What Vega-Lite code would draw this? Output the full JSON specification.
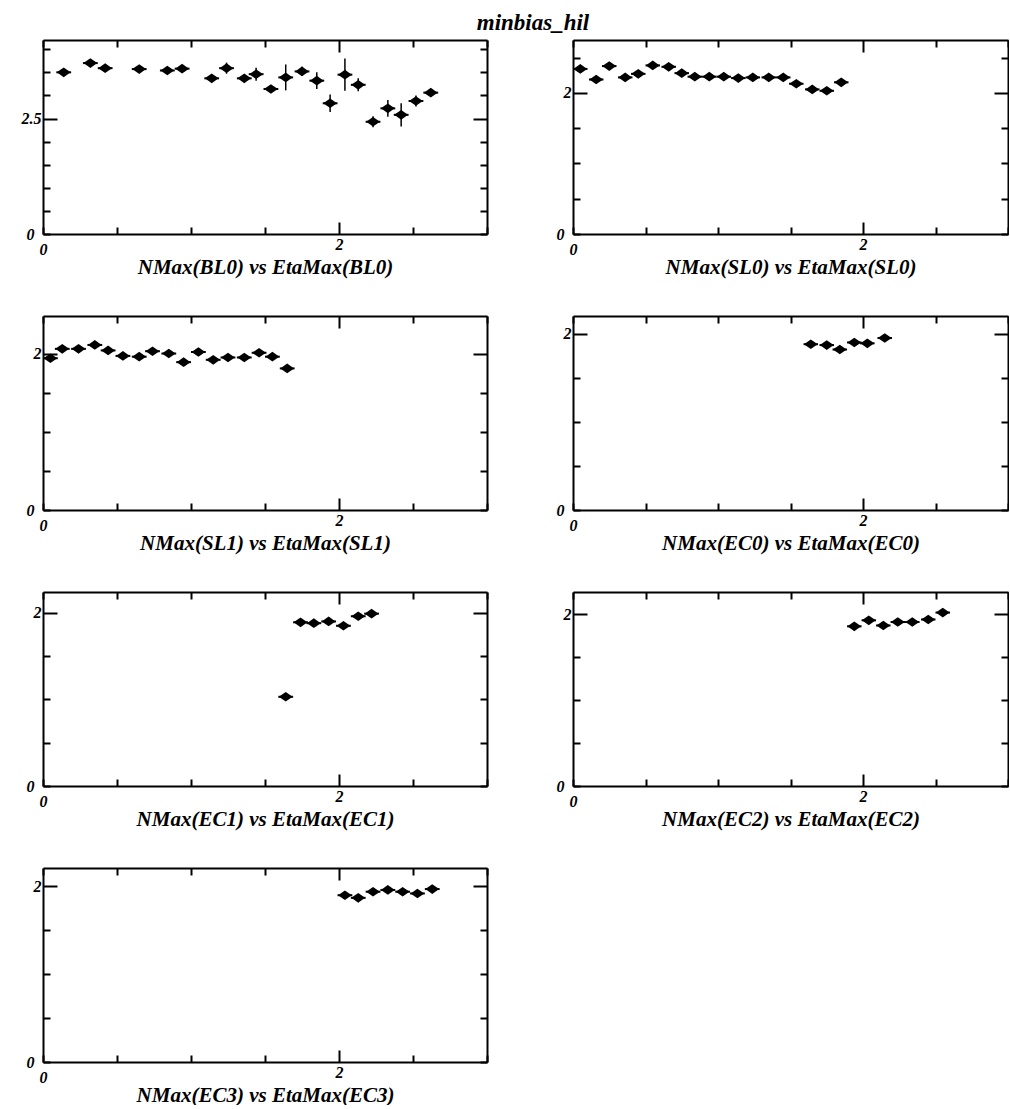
{
  "$schema": "https://vega.github.io/schema/vega-lite/v6.json",
  "background": "white",
  "padding": {"left": 21, "top": 12, "right": 0, "bottom": 0},
  "title": {"text": "minbias_hil", "font": "Liberation Serif", "fontStyle": "italic", "fontWeight": "bold", "fontSize": 23, "color": "black", "anchor": "middle", "offset": 4, "dx": 18},
  "columns": 2,
  "spacing": {"row": 38, "column": 68},
  "datasets": {
    "bl0": [
      {"x":0.14,"xlo":0.09,"xhi":0.19,"y":3.50,"ylo":3.44,"yhi":3.56},
      {"x":0.32,"xlo":0.27,"xhi":0.37,"y":3.70,"ylo":3.64,"yhi":3.76},
      {"x":0.42,"xlo":0.37,"xhi":0.47,"y":3.59,"ylo":3.53,"yhi":3.65},
      {"x":0.65,"xlo":0.60,"xhi":0.70,"y":3.57,"ylo":3.51,"yhi":3.63},
      {"x":0.84,"xlo":0.79,"xhi":0.89,"y":3.54,"ylo":3.48,"yhi":3.60},
      {"x":0.94,"xlo":0.89,"xhi":0.99,"y":3.58,"ylo":3.52,"yhi":3.64},
      {"x":1.14,"xlo":1.09,"xhi":1.19,"y":3.37,"ylo":3.30,"yhi":3.44},
      {"x":1.24,"xlo":1.19,"xhi":1.29,"y":3.59,"ylo":3.47,"yhi":3.71},
      {"x":1.36,"xlo":1.31,"xhi":1.41,"y":3.37,"ylo":3.29,"yhi":3.45},
      {"x":1.44,"xlo":1.39,"xhi":1.49,"y":3.46,"ylo":3.32,"yhi":3.60},
      {"x":1.54,"xlo":1.49,"xhi":1.59,"y":3.14,"ylo":3.06,"yhi":3.22},
      {"x":1.64,"xlo":1.59,"xhi":1.69,"y":3.39,"ylo":3.11,"yhi":3.67},
      {"x":1.75,"xlo":1.70,"xhi":1.80,"y":3.52,"ylo":3.42,"yhi":3.62},
      {"x":1.85,"xlo":1.80,"xhi":1.90,"y":3.32,"ylo":3.14,"yhi":3.50},
      {"x":1.94,"xlo":1.89,"xhi":1.99,"y":2.83,"ylo":2.64,"yhi":3.02},
      {"x":2.04,"xlo":1.99,"xhi":2.09,"y":3.45,"ylo":3.10,"yhi":3.80},
      {"x":2.13,"xlo":2.08,"xhi":2.18,"y":3.23,"ylo":3.09,"yhi":3.37},
      {"x":2.23,"xlo":2.18,"xhi":2.28,"y":2.43,"ylo":2.31,"yhi":2.55},
      {"x":2.33,"xlo":2.28,"xhi":2.38,"y":2.72,"ylo":2.54,"yhi":2.90},
      {"x":2.42,"xlo":2.37,"xhi":2.47,"y":2.58,"ylo":2.33,"yhi":2.83},
      {"x":2.52,"xlo":2.47,"xhi":2.57,"y":2.88,"ylo":2.76,"yhi":3.00},
      {"x":2.62,"xlo":2.57,"xhi":2.67,"y":3.06,"ylo":2.98,"yhi":3.14}
    ],
    "sl0": [
      {"x":0.05,"xlo":0.00,"xhi":0.10,"y":2.34,"ylo":2.31,"yhi":2.37},
      {"x":0.16,"xlo":0.11,"xhi":0.21,"y":2.19,"ylo":2.16,"yhi":2.22},
      {"x":0.25,"xlo":0.20,"xhi":0.30,"y":2.38,"ylo":2.35,"yhi":2.41},
      {"x":0.36,"xlo":0.31,"xhi":0.41,"y":2.22,"ylo":2.19,"yhi":2.25},
      {"x":0.45,"xlo":0.40,"xhi":0.50,"y":2.27,"ylo":2.24,"yhi":2.30},
      {"x":0.55,"xlo":0.50,"xhi":0.60,"y":2.39,"ylo":2.36,"yhi":2.42},
      {"x":0.66,"xlo":0.61,"xhi":0.71,"y":2.37,"ylo":2.34,"yhi":2.40},
      {"x":0.75,"xlo":0.70,"xhi":0.80,"y":2.28,"ylo":2.25,"yhi":2.31},
      {"x":0.84,"xlo":0.79,"xhi":0.89,"y":2.23,"ylo":2.20,"yhi":2.26},
      {"x":0.94,"xlo":0.89,"xhi":0.99,"y":2.23,"ylo":2.20,"yhi":2.26},
      {"x":1.04,"xlo":0.99,"xhi":1.09,"y":2.23,"ylo":2.20,"yhi":2.26},
      {"x":1.14,"xlo":1.09,"xhi":1.19,"y":2.21,"ylo":2.18,"yhi":2.24},
      {"x":1.24,"xlo":1.19,"xhi":1.29,"y":2.22,"ylo":2.19,"yhi":2.25},
      {"x":1.35,"xlo":1.30,"xhi":1.40,"y":2.22,"ylo":2.19,"yhi":2.25},
      {"x":1.45,"xlo":1.40,"xhi":1.50,"y":2.22,"ylo":2.19,"yhi":2.25},
      {"x":1.54,"xlo":1.49,"xhi":1.59,"y":2.13,"ylo":2.10,"yhi":2.16},
      {"x":1.65,"xlo":1.60,"xhi":1.70,"y":2.05,"ylo":2.02,"yhi":2.08},
      {"x":1.75,"xlo":1.70,"xhi":1.80,"y":2.03,"ylo":2.00,"yhi":2.06},
      {"x":1.85,"xlo":1.80,"xhi":1.90,"y":2.15,"ylo":2.12,"yhi":2.18}
    ],
    "sl1": [
      {"x":0.05,"xlo":0.00,"xhi":0.10,"y":1.94,"ylo":1.91,"yhi":1.97},
      {"x":0.13,"xlo":0.08,"xhi":0.18,"y":2.06,"ylo":2.03,"yhi":2.09},
      {"x":0.24,"xlo":0.19,"xhi":0.29,"y":2.06,"ylo":2.03,"yhi":2.09},
      {"x":0.35,"xlo":0.30,"xhi":0.40,"y":2.11,"ylo":2.08,"yhi":2.14},
      {"x":0.44,"xlo":0.39,"xhi":0.49,"y":2.04,"ylo":2.01,"yhi":2.07},
      {"x":0.54,"xlo":0.49,"xhi":0.59,"y":1.97,"ylo":1.94,"yhi":2.00},
      {"x":0.65,"xlo":0.60,"xhi":0.70,"y":1.96,"ylo":1.93,"yhi":1.99},
      {"x":0.74,"xlo":0.69,"xhi":0.79,"y":2.03,"ylo":2.00,"yhi":2.06},
      {"x":0.85,"xlo":0.80,"xhi":0.90,"y":2.00,"ylo":1.97,"yhi":2.03},
      {"x":0.95,"xlo":0.90,"xhi":1.00,"y":1.89,"ylo":1.86,"yhi":1.92},
      {"x":1.05,"xlo":1.00,"xhi":1.10,"y":2.02,"ylo":1.99,"yhi":2.05},
      {"x":1.15,"xlo":1.10,"xhi":1.20,"y":1.92,"ylo":1.89,"yhi":1.95},
      {"x":1.25,"xlo":1.20,"xhi":1.30,"y":1.95,"ylo":1.92,"yhi":1.98},
      {"x":1.36,"xlo":1.31,"xhi":1.41,"y":1.95,"ylo":1.92,"yhi":1.98},
      {"x":1.46,"xlo":1.41,"xhi":1.51,"y":2.01,"ylo":1.98,"yhi":2.04},
      {"x":1.55,"xlo":1.50,"xhi":1.60,"y":1.96,"ylo":1.93,"yhi":1.99},
      {"x":1.65,"xlo":1.60,"xhi":1.70,"y":1.81,"ylo":1.78,"yhi":1.84}
    ],
    "ec0": [
      {"x":1.64,"xlo":1.59,"xhi":1.69,"y":1.88,"ylo":1.85,"yhi":1.91},
      {"x":1.75,"xlo":1.70,"xhi":1.80,"y":1.87,"ylo":1.84,"yhi":1.90},
      {"x":1.84,"xlo":1.79,"xhi":1.89,"y":1.82,"ylo":1.79,"yhi":1.85},
      {"x":1.94,"xlo":1.89,"xhi":1.99,"y":1.90,"ylo":1.87,"yhi":1.93},
      {"x":2.03,"xlo":1.98,"xhi":2.08,"y":1.89,"ylo":1.86,"yhi":1.92},
      {"x":2.15,"xlo":2.10,"xhi":2.20,"y":1.95,"ylo":1.92,"yhi":1.98}
    ],
    "ec1": [
      {"x":1.64,"xlo":1.59,"xhi":1.69,"y":1.03,"ylo":1.00,"yhi":1.06},
      {"x":1.74,"xlo":1.69,"xhi":1.79,"y":1.89,"ylo":1.86,"yhi":1.92},
      {"x":1.83,"xlo":1.78,"xhi":1.88,"y":1.88,"ylo":1.85,"yhi":1.91},
      {"x":1.93,"xlo":1.88,"xhi":1.98,"y":1.90,"ylo":1.87,"yhi":1.93},
      {"x":2.03,"xlo":1.98,"xhi":2.08,"y":1.85,"ylo":1.82,"yhi":1.88},
      {"x":2.13,"xlo":2.08,"xhi":2.18,"y":1.96,"ylo":1.93,"yhi":1.99},
      {"x":2.22,"xlo":2.17,"xhi":2.27,"y":1.99,"ylo":1.96,"yhi":2.02}
    ],
    "ec2": [
      {"x":1.94,"xlo":1.89,"xhi":1.99,"y":1.86,"ylo":1.83,"yhi":1.89},
      {"x":2.04,"xlo":1.99,"xhi":2.09,"y":1.93,"ylo":1.90,"yhi":1.96},
      {"x":2.14,"xlo":2.09,"xhi":2.19,"y":1.87,"ylo":1.84,"yhi":1.90},
      {"x":2.24,"xlo":2.19,"xhi":2.29,"y":1.91,"ylo":1.88,"yhi":1.94},
      {"x":2.34,"xlo":2.29,"xhi":2.39,"y":1.91,"ylo":1.88,"yhi":1.94},
      {"x":2.45,"xlo":2.40,"xhi":2.50,"y":1.94,"ylo":1.91,"yhi":1.97},
      {"x":2.55,"xlo":2.50,"xhi":2.60,"y":2.02,"ylo":1.99,"yhi":2.05}
    ],
    "ec3": [
      {"x":2.04,"xlo":1.99,"xhi":2.09,"y":1.90,"ylo":1.87,"yhi":1.93},
      {"x":2.13,"xlo":2.08,"xhi":2.18,"y":1.87,"ylo":1.84,"yhi":1.90},
      {"x":2.23,"xlo":2.18,"xhi":2.28,"y":1.94,"ylo":1.91,"yhi":1.97},
      {"x":2.33,"xlo":2.28,"xhi":2.38,"y":1.96,"ylo":1.93,"yhi":1.99},
      {"x":2.43,"xlo":2.38,"xhi":2.48,"y":1.94,"ylo":1.91,"yhi":1.97},
      {"x":2.53,"xlo":2.48,"xhi":2.58,"y":1.92,"ylo":1.89,"yhi":1.95},
      {"x":2.63,"xlo":2.58,"xhi":2.68,"y":1.97,"ylo":1.94,"yhi":2.00}
    ]
  },
  "concat": [
    {
      "width": 444, "height": 194,
      "data": {"name": "bl0"},
      "layer": [
        {"mark": {"type": "rule", "color": "black", "strokeWidth": 2},
         "encoding": {
           "x": {"field": "xlo", "type": "quantitative", "scale": {"domain": [0, 3], "nice": false, "zero": false},
                 "axis": {"orient": "bottom", "title": "NMax(BL0) vs EtaMax(BL0)", "values": [0,0.5,1,1.5,2,2.5,3], "labelExpr": "datum.value == 0 ? '0' : datum.value == 2 ? '2' : ''", "tickSize": {"condition": {"test": "datum.value == 2", "value": -12}, "value": -7}}},
           "x2": {"field": "xhi"},
           "y": {"field": "y", "type": "quantitative", "scale": {"domain": [0, 4.2], "nice": false, "zero": false},
                 "axis": {"orient": "left", "title": null, "values": [0,0.5,1,1.5,2,2.5,3,3.5,4], "labelExpr": "datum.value == 0 ? '0' : datum.value == 2.5 ? '2.5' : ''", "tickSize": {"condition": {"test": "datum.value == 2.5", "value": -14}, "value": -7}}}
         }},
        {"mark": {"type": "rule", "color": "black", "strokeWidth": 1.5},
         "encoding": {
           "x": {"field": "x", "type": "quantitative", "scale": {"domain": [0, 3], "nice": false, "zero": false},
                 "axis": {"orient": "top", "title": null, "labels": false, "values": [0,0.5,1,1.5,2,2.5,3], "tickSize": {"condition": {"test": "datum.value == 2", "value": -12}, "value": -7}}},
           "y": {"field": "ylo", "type": "quantitative", "scale": {"domain": [0, 4.2], "nice": false, "zero": false},
                 "axis": {"orient": "right", "title": null, "labels": false, "values": [0,0.5,1,1.5,2,2.5,3,3.5,4], "tickSize": {"condition": {"test": "datum.value == 2.5", "value": -14}, "value": -7}}},
           "y2": {"field": "yhi"}
         }},
        {"mark": {"type": "point", "shape": "M-1,0L0,-0.7L1,0L0,0.7Z", "filled": true, "color": "black", "opacity": 1, "size": 190},
         "encoding": {
           "x": {"field": "x", "type": "quantitative", "scale": {"domain": [0, 3], "nice": false, "zero": false}, "axis": null},
           "y": {"field": "y", "type": "quantitative", "scale": {"domain": [0, 4.2], "nice": false, "zero": false}, "axis": null}
         }}
      ],
      "resolve": {"axis": {"x": "independent", "y": "independent"}}
    },
    {
      "width": 435, "height": 194,
      "data": {"name": "sl0"},
      "layer": [
        {"mark": {"type": "rule", "color": "black", "strokeWidth": 2},
         "encoding": {
           "x": {"field": "xlo", "type": "quantitative", "scale": {"domain": [0, 3], "nice": false, "zero": false},
                 "axis": {"orient": "bottom", "title": "NMax(SL0) vs EtaMax(SL0)", "values": [0,0.5,1,1.5,2,2.5,3], "labelExpr": "datum.value == 0 ? '0' : datum.value == 2 ? '2' : ''", "tickSize": {"condition": {"test": "datum.value == 2", "value": -12}, "value": -7}}},
           "x2": {"field": "xhi"},
           "y": {"field": "y", "type": "quantitative", "scale": {"domain": [0, 2.75], "nice": false, "zero": false},
                 "axis": {"orient": "left", "title": null, "values": [0,0.5,1,1.5,2,2.5], "labelExpr": "datum.value == 0 ? '0' : datum.value == 2 ? '2' : ''", "tickSize": {"condition": {"test": "datum.value == 2", "value": -14}, "value": -7}}}
         }},
        {"mark": {"type": "rule", "color": "black", "strokeWidth": 1.5},
         "encoding": {
           "x": {"field": "x", "type": "quantitative", "scale": {"domain": [0, 3], "nice": false, "zero": false},
                 "axis": {"orient": "top", "title": null, "labels": false, "values": [0,0.5,1,1.5,2,2.5,3], "tickSize": {"condition": {"test": "datum.value == 2", "value": -12}, "value": -7}}},
           "y": {"field": "ylo", "type": "quantitative", "scale": {"domain": [0, 2.75], "nice": false, "zero": false},
                 "axis": {"orient": "right", "title": null, "labels": false, "values": [0,0.5,1,1.5,2,2.5], "tickSize": {"condition": {"test": "datum.value == 2", "value": -14}, "value": -7}}},
           "y2": {"field": "yhi"}
         }},
        {"mark": {"type": "point", "shape": "M-1,0L0,-0.7L1,0L0,0.7Z", "filled": true, "color": "black", "opacity": 1, "size": 190},
         "encoding": {
           "x": {"field": "x", "type": "quantitative", "scale": {"domain": [0, 3], "nice": false, "zero": false}, "axis": null},
           "y": {"field": "y", "type": "quantitative", "scale": {"domain": [0, 2.75], "nice": false, "zero": false}, "axis": null}
         }}
      ],
      "resolve": {"axis": {"x": "independent", "y": "independent"}}
    },
    {
      "width": 444, "height": 194,
      "data": {"name": "sl1"},
      "layer": [
        {"mark": {"type": "rule", "color": "black", "strokeWidth": 2},
         "encoding": {
           "x": {"field": "xlo", "type": "quantitative", "scale": {"domain": [0, 3], "nice": false, "zero": false},
                 "axis": {"orient": "bottom", "title": "NMax(SL1) vs EtaMax(SL1)", "values": [0,0.5,1,1.5,2,2.5,3], "labelExpr": "datum.value == 0 ? '0' : datum.value == 2 ? '2' : ''", "tickSize": {"condition": {"test": "datum.value == 2", "value": -12}, "value": -7}}},
           "x2": {"field": "xhi"},
           "y": {"field": "y", "type": "quantitative", "scale": {"domain": [0, 2.48], "nice": false, "zero": false},
                 "axis": {"orient": "left", "title": null, "values": [0,0.5,1,1.5,2], "labelExpr": "datum.value == 0 ? '0' : datum.value == 2 ? '2' : ''", "tickSize": {"condition": {"test": "datum.value == 2", "value": -14}, "value": -7}}}
         }},
        {"mark": {"type": "rule", "color": "black", "strokeWidth": 1.5},
         "encoding": {
           "x": {"field": "x", "type": "quantitative", "scale": {"domain": [0, 3], "nice": false, "zero": false},
                 "axis": {"orient": "top", "title": null, "labels": false, "values": [0,0.5,1,1.5,2,2.5,3], "tickSize": {"condition": {"test": "datum.value == 2", "value": -12}, "value": -7}}},
           "y": {"field": "ylo", "type": "quantitative", "scale": {"domain": [0, 2.48], "nice": false, "zero": false},
                 "axis": {"orient": "right", "title": null, "labels": false, "values": [0,0.5,1,1.5,2], "tickSize": {"condition": {"test": "datum.value == 2", "value": -14}, "value": -7}}},
           "y2": {"field": "yhi"}
         }},
        {"mark": {"type": "point", "shape": "M-1,0L0,-0.7L1,0L0,0.7Z", "filled": true, "color": "black", "opacity": 1, "size": 190},
         "encoding": {
           "x": {"field": "x", "type": "quantitative", "scale": {"domain": [0, 3], "nice": false, "zero": false}, "axis": null},
           "y": {"field": "y", "type": "quantitative", "scale": {"domain": [0, 2.48], "nice": false, "zero": false}, "axis": null}
         }}
      ],
      "resolve": {"axis": {"x": "independent", "y": "independent"}}
    },
    {
      "width": 435, "height": 194,
      "data": {"name": "ec0"},
      "layer": [
        {"mark": {"type": "rule", "color": "black", "strokeWidth": 2},
         "encoding": {
           "x": {"field": "xlo", "type": "quantitative", "scale": {"domain": [0, 3], "nice": false, "zero": false},
                 "axis": {"orient": "bottom", "title": "NMax(EC0) vs EtaMax(EC0)", "values": [0,0.5,1,1.5,2,2.5,3], "labelExpr": "datum.value == 0 ? '0' : datum.value == 2 ? '2' : ''", "tickSize": {"condition": {"test": "datum.value == 2", "value": -12}, "value": -7}}},
           "x2": {"field": "xhi"},
           "y": {"field": "y", "type": "quantitative", "scale": {"domain": [0, 2.2], "nice": false, "zero": false},
                 "axis": {"orient": "left", "title": null, "values": [0,0.5,1,1.5,2], "labelExpr": "datum.value == 0 ? '0' : datum.value == 2 ? '2' : ''", "tickSize": {"condition": {"test": "datum.value == 2", "value": -14}, "value": -7}}}
         }},
        {"mark": {"type": "rule", "color": "black", "strokeWidth": 1.5},
         "encoding": {
           "x": {"field": "x", "type": "quantitative", "scale": {"domain": [0, 3], "nice": false, "zero": false},
                 "axis": {"orient": "top", "title": null, "labels": false, "values": [0,0.5,1,1.5,2,2.5,3], "tickSize": {"condition": {"test": "datum.value == 2", "value": -12}, "value": -7}}},
           "y": {"field": "ylo", "type": "quantitative", "scale": {"domain": [0, 2.2], "nice": false, "zero": false},
                 "axis": {"orient": "right", "title": null, "labels": false, "values": [0,0.5,1,1.5,2], "tickSize": {"condition": {"test": "datum.value == 2", "value": -14}, "value": -7}}},
           "y2": {"field": "yhi"}
         }},
        {"mark": {"type": "point", "shape": "M-1,0L0,-0.7L1,0L0,0.7Z", "filled": true, "color": "black", "opacity": 1, "size": 190},
         "encoding": {
           "x": {"field": "x", "type": "quantitative", "scale": {"domain": [0, 3], "nice": false, "zero": false}, "axis": null},
           "y": {"field": "y", "type": "quantitative", "scale": {"domain": [0, 2.2], "nice": false, "zero": false}, "axis": null}
         }}
      ],
      "resolve": {"axis": {"x": "independent", "y": "independent"}}
    },
    {
      "width": 444, "height": 194,
      "data": {"name": "ec1"},
      "layer": [
        {"mark": {"type": "rule", "color": "black", "strokeWidth": 2},
         "encoding": {
           "x": {"field": "xlo", "type": "quantitative", "scale": {"domain": [0, 3], "nice": false, "zero": false},
                 "axis": {"orient": "bottom", "title": "NMax(EC1) vs EtaMax(EC1)", "values": [0,0.5,1,1.5,2,2.5,3], "labelExpr": "datum.value == 0 ? '0' : datum.value == 2 ? '2' : ''", "tickSize": {"condition": {"test": "datum.value == 2", "value": -12}, "value": -7}}},
           "x2": {"field": "xhi"},
           "y": {"field": "y", "type": "quantitative", "scale": {"domain": [0, 2.24], "nice": false, "zero": false},
                 "axis": {"orient": "left", "title": null, "values": [0,0.5,1,1.5,2], "labelExpr": "datum.value == 0 ? '0' : datum.value == 2 ? '2' : ''", "tickSize": {"condition": {"test": "datum.value == 2", "value": -14}, "value": -7}}}
         }},
        {"mark": {"type": "rule", "color": "black", "strokeWidth": 1.5},
         "encoding": {
           "x": {"field": "x", "type": "quantitative", "scale": {"domain": [0, 3], "nice": false, "zero": false},
                 "axis": {"orient": "top", "title": null, "labels": false, "values": [0,0.5,1,1.5,2,2.5,3], "tickSize": {"condition": {"test": "datum.value == 2", "value": -12}, "value": -7}}},
           "y": {"field": "ylo", "type": "quantitative", "scale": {"domain": [0, 2.24], "nice": false, "zero": false},
                 "axis": {"orient": "right", "title": null, "labels": false, "values": [0,0.5,1,1.5,2], "tickSize": {"condition": {"test": "datum.value == 2", "value": -14}, "value": -7}}},
           "y2": {"field": "yhi"}
         }},
        {"mark": {"type": "point", "shape": "M-1,0L0,-0.7L1,0L0,0.7Z", "filled": true, "color": "black", "opacity": 1, "size": 190},
         "encoding": {
           "x": {"field": "x", "type": "quantitative", "scale": {"domain": [0, 3], "nice": false, "zero": false}, "axis": null},
           "y": {"field": "y", "type": "quantitative", "scale": {"domain": [0, 2.24], "nice": false, "zero": false}, "axis": null}
         }}
      ],
      "resolve": {"axis": {"x": "independent", "y": "independent"}}
    },
    {
      "width": 435, "height": 194,
      "data": {"name": "ec2"},
      "layer": [
        {"mark": {"type": "rule", "color": "black", "strokeWidth": 2},
         "encoding": {
           "x": {"field": "xlo", "type": "quantitative", "scale": {"domain": [0, 3], "nice": false, "zero": false},
                 "axis": {"orient": "bottom", "title": "NMax(EC2) vs EtaMax(EC2)", "values": [0,0.5,1,1.5,2,2.5,3], "labelExpr": "datum.value == 0 ? '0' : datum.value == 2 ? '2' : ''", "tickSize": {"condition": {"test": "datum.value == 2", "value": -12}, "value": -7}}},
           "x2": {"field": "xhi"},
           "y": {"field": "y", "type": "quantitative", "scale": {"domain": [0, 2.26], "nice": false, "zero": false},
                 "axis": {"orient": "left", "title": null, "values": [0,0.5,1,1.5,2], "labelExpr": "datum.value == 0 ? '0' : datum.value == 2 ? '2' : ''", "tickSize": {"condition": {"test": "datum.value == 2", "value": -14}, "value": -7}}}
         }},
        {"mark": {"type": "rule", "color": "black", "strokeWidth": 1.5},
         "encoding": {
           "x": {"field": "x", "type": "quantitative", "scale": {"domain": [0, 3], "nice": false, "zero": false},
                 "axis": {"orient": "top", "title": null, "labels": false, "values": [0,0.5,1,1.5,2,2.5,3], "tickSize": {"condition": {"test": "datum.value == 2", "value": -12}, "value": -7}}},
           "y": {"field": "ylo", "type": "quantitative", "scale": {"domain": [0, 2.26], "nice": false, "zero": false},
                 "axis": {"orient": "right", "title": null, "labels": false, "values": [0,0.5,1,1.5,2], "tickSize": {"condition": {"test": "datum.value == 2", "value": -14}, "value": -7}}},
           "y2": {"field": "yhi"}
         }},
        {"mark": {"type": "point", "shape": "M-1,0L0,-0.7L1,0L0,0.7Z", "filled": true, "color": "black", "opacity": 1, "size": 190},
         "encoding": {
           "x": {"field": "x", "type": "quantitative", "scale": {"domain": [0, 3], "nice": false, "zero": false}, "axis": null},
           "y": {"field": "y", "type": "quantitative", "scale": {"domain": [0, 2.26], "nice": false, "zero": false}, "axis": null}
         }}
      ],
      "resolve": {"axis": {"x": "independent", "y": "independent"}}
    },
    {
      "width": 444, "height": 194,
      "data": {"name": "ec3"},
      "layer": [
        {"mark": {"type": "rule", "color": "black", "strokeWidth": 2},
         "encoding": {
           "x": {"field": "xlo", "type": "quantitative", "scale": {"domain": [0, 3], "nice": false, "zero": false},
                 "axis": {"orient": "bottom", "title": "NMax(EC3) vs EtaMax(EC3)", "values": [0,0.5,1,1.5,2,2.5,3], "labelExpr": "datum.value == 0 ? '0' : datum.value == 2 ? '2' : ''", "tickSize": {"condition": {"test": "datum.value == 2", "value": -12}, "value": -7}}},
           "x2": {"field": "xhi"},
           "y": {"field": "y", "type": "quantitative", "scale": {"domain": [0, 2.21], "nice": false, "zero": false},
                 "axis": {"orient": "left", "title": null, "values": [0,0.5,1,1.5,2], "labelExpr": "datum.value == 0 ? '0' : datum.value == 2 ? '2' : ''", "tickSize": {"condition": {"test": "datum.value == 2", "value": -14}, "value": -7}}}
         }},
        {"mark": {"type": "rule", "color": "black", "strokeWidth": 1.5},
         "encoding": {
           "x": {"field": "x", "type": "quantitative", "scale": {"domain": [0, 3], "nice": false, "zero": false},
                 "axis": {"orient": "top", "title": null, "labels": false, "values": [0,0.5,1,1.5,2,2.5,3], "tickSize": {"condition": {"test": "datum.value == 2", "value": -12}, "value": -7}}},
           "y": {"field": "ylo", "type": "quantitative", "scale": {"domain": [0, 2.21], "nice": false, "zero": false},
                 "axis": {"orient": "right", "title": null, "labels": false, "values": [0,0.5,1,1.5,2], "tickSize": {"condition": {"test": "datum.value == 2", "value": -14}, "value": -7}}},
           "y2": {"field": "yhi"}
         }},
        {"mark": {"type": "point", "shape": "M-1,0L0,-0.7L1,0L0,0.7Z", "filled": true, "color": "black", "opacity": 1, "size": 190},
         "encoding": {
           "x": {"field": "x", "type": "quantitative", "scale": {"domain": [0, 3], "nice": false, "zero": false}, "axis": null},
           "y": {"field": "y", "type": "quantitative", "scale": {"domain": [0, 2.21], "nice": false, "zero": false}, "axis": null}
         }}
      ],
      "resolve": {"axis": {"x": "independent", "y": "independent"}}
    }
  ],
  "config": {
    "view": {"stroke": null},
    "axis": {
      "domainColor": "black", "domainWidth": 2, "tickColor": "black", "tickWidth": 2, "grid": false,
      "labelFont": "Liberation Serif", "labelFontStyle": "italic", "labelFontWeight": "bold", "labelFontSize": 16, "labelColor": "black",
      "labelOverlap": false, "labelFlush": false,
      "titleFont": "Liberation Serif", "titleFontStyle": "italic", "titleFontWeight": "bold", "titleFontSize": 21, "titleColor": "black", "titlePadding": -1
    },
    "axisX": {"labelPadding": 14},
    "axisY": {"labelPadding": 16}
  }
}
